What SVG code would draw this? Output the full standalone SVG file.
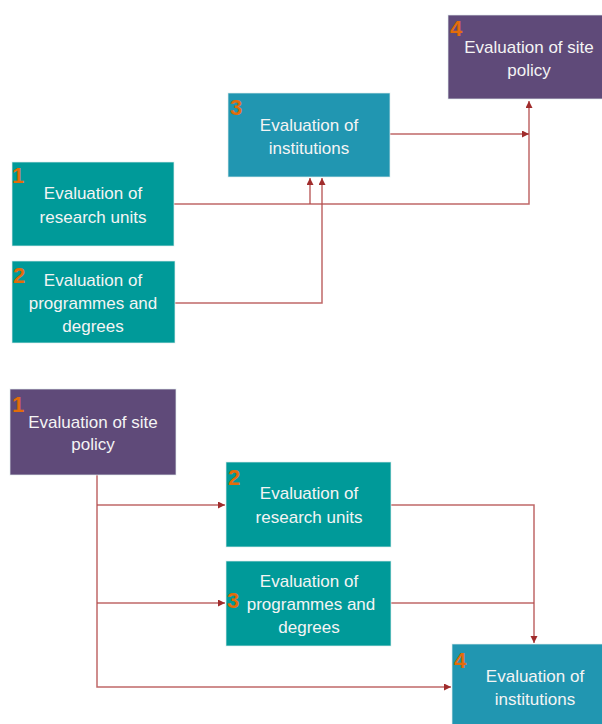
<svg xmlns="http://www.w3.org/2000/svg" width="602" height="724" viewBox="0 0 602 724">
  <defs>
    <style>
      .box { stroke: #e4f0f0; stroke-width: 1; stroke-opacity: 0.7; }
      .teal { fill: #009a99; }
      .blue { fill: #2196b1; }
      .purple { fill: #5f4a79; }
      .label { font-family: "Liberation Sans", Arial, sans-serif; font-size: 17px; fill: #f4f4f4; text-anchor: middle; }
      .num { font-family: "Liberation Sans", Arial, sans-serif; font-size: 22px; font-weight: bold; fill: #e36c09; }
      .link { fill: none; stroke: #b44c4c; stroke-width: 1.5; stroke-opacity: 0.85; }
    </style>
    <marker id="arrow" markerUnits="userSpaceOnUse" markerWidth="8" markerHeight="8" refX="7" refY="3.5" orient="auto">
      <path d="M0,0 L7,3.5 L0,7 z" fill="#a02c2c"/>
    </marker>
  </defs>

  <rect width="602" height="724" fill="#ffffff"/>

  <!-- upper chart: units feed institutions, which feed site policy -->
  <g id="connectors-top">
    <path class="link" d="M174,204 H529 V101" marker-end="url(#arrow)"/>
    <path class="link" d="M310,204 V178" marker-end="url(#arrow)"/>
    <path class="link" d="M175,303 H322 V178" marker-end="url(#arrow)"/>
    <path class="link" d="M390,134 H529" marker-end="url(#arrow)"/>
  </g>

  <g id="top-site-policy">
    <rect class="box purple" x="448" y="15" width="155" height="84"/>
    <text class="num" x="450" y="36">4</text>
    <text class="label" x="529" y="53">Evaluation of site</text>
    <text class="label" x="529" y="76">policy</text>
  </g>

  <g id="top-institutions">
    <rect class="box blue" x="228" y="93" width="162" height="84"/>
    <text class="num" x="230" y="115">3</text>
    <text class="label" x="309" y="131">Evaluation of</text>
    <text class="label" x="309" y="154">institutions</text>
  </g>

  <g id="top-research-units">
    <rect class="box teal" x="12" y="162" width="162" height="84"/>
    <text class="num" x="12" y="183">1</text>
    <text class="label" x="93" y="199">Evaluation of</text>
    <text class="label" x="93" y="223">research units</text>
  </g>

  <g id="top-programmes">
    <rect class="box teal" x="12" y="261" width="163" height="82"/>
    <text class="num" x="13" y="283">2</text>
    <text class="label" x="93" y="286">Evaluation of</text>
    <text class="label" x="93" y="309">programmes and</text>
    <text class="label" x="93" y="332">degrees</text>
  </g>

  <!-- lower chart: site policy first, institutions last -->
  <g id="connectors-bottom">
    <path class="link" d="M97,475 V687 H451" marker-end="url(#arrow)"/>
    <path class="link" d="M97,505 H225" marker-end="url(#arrow)"/>
    <path class="link" d="M97,603 H225" marker-end="url(#arrow)"/>
    <path class="link" d="M391,505 H534 V643" marker-end="url(#arrow)"/>
    <path class="link" d="M391,603 H534"/>
  </g>

  <g id="bottom-site-policy">
    <rect class="box purple" x="10" y="389" width="166" height="86"/>
    <text class="num" x="12" y="412">1</text>
    <text class="label" x="93" y="428">Evaluation of site</text>
    <text class="label" x="93" y="450">policy</text>
  </g>

  <g id="bottom-research-units">
    <rect class="box teal" x="226" y="462" width="165" height="85"/>
    <text class="num" x="228" y="485">2</text>
    <text class="label" x="309" y="499">Evaluation of</text>
    <text class="label" x="309" y="523">research units</text>
  </g>

  <g id="bottom-programmes">
    <rect class="box teal" x="226" y="561" width="165" height="85"/>
    <text class="label" x="309" y="587">Evaluation of</text>
    <text class="label" x="311" y="610">programmes and</text>
    <text class="label" x="309" y="633">degrees</text>
    <text class="num" x="227" y="608">3</text>
  </g>

  <g id="bottom-institutions">
    <rect class="box blue" x="452" y="644" width="151" height="81"/>
    <text class="num" x="454" y="668">4</text>
    <text class="label" x="535" y="682">Evaluation of</text>
    <text class="label" x="535" y="705">institutions</text>
  </g>
</svg>
